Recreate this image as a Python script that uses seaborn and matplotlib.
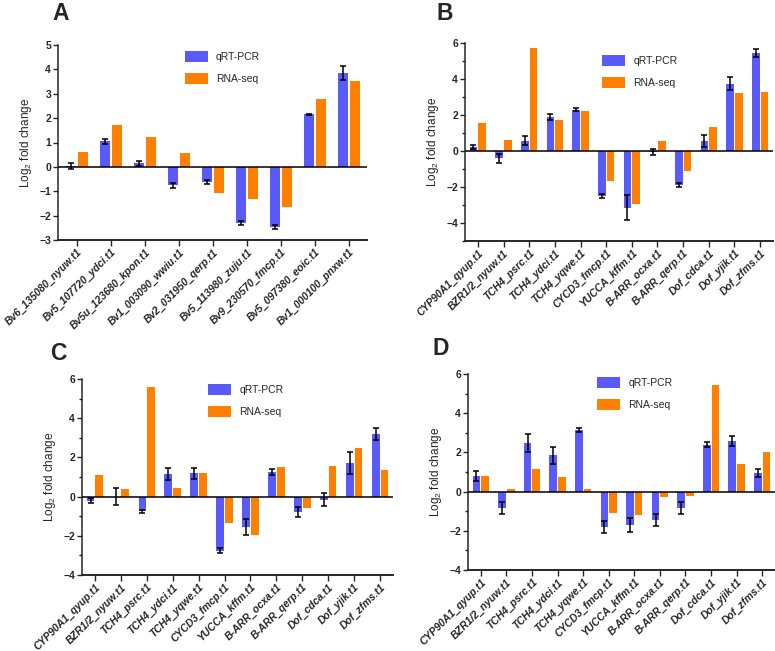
import numpy as np
import pandas as pd
import matplotlib
matplotlib.use("Agg")
import matplotlib.pyplot as plt
import seaborn as sns

# panel A genes and values
genes_a = ["Bv6_135080_nyuw.t1", "Bv5_107720_ydci.t1", "Bv5u_123680_kpon.t1",
           "Bv1_003090_wwiu.t1", "Bv2_031950_qerp.t1", "Bv5_113980_zuju.t1",
           "Bv9_230570_fmcp.t1", "Bv5_097380_eoic.t1", "Bv1_000100_pnxw.t1"]
qpcr_a = [0.05, 1.05, 0.15, -0.75, -0.62, -2.3, -2.45, 2.15, 3.85]
qpcr_err_a = [0.12, 0.1, 0.1, 0.1, 0.08, 0.07, 0.08, 0.02, 0.3]
rnaseq_a = [0.6, 1.72, 1.22, 0.57, -1.08, -1.33, -1.63, 2.8, 3.52]

# panels B, C, D share the same genes
genes_bcd = ["CYP90A1_qyup.t1", "BZR1/2_nyuw.t1", "TCH4_psrc.t1", "TCH4_ydci.t1",
             "TCH4_yqwe.t1", "CYCD3_fmcp.t1", "YUCCA_kffm.t1", "B-ARR_ocxa.t1",
             "B-ARR_qerp.t1", "Dof_cdca.t1", "Dof_yjik.t1", "Dof_zfms.t1"]

qpcr_b = [0.22, -0.4, 0.57, 1.9, 2.3, -2.5, -3.15, -0.05, -1.9, 0.55, 3.75, 5.45]
qpcr_err_b = [0.1, 0.25, 0.25, 0.15, 0.08, 0.1, 0.7, 0.15, 0.12, 0.35, 0.35, 0.2]
rnaseq_b = [1.57, 0.6, 5.7, 1.72, 2.25, -1.65, -2.95, 0.57, -1.1, 1.35, 3.2, 3.3]

qpcr_c = [-0.2, 0.0, -0.75, 1.15, 1.18, -2.75, -1.55, 1.25, -0.8, -0.15, 1.72, 3.2]
qpcr_err_c = [0.15, 0.45, 0.08, 0.3, 0.28, 0.15, 0.4, 0.15, 0.25, 0.35, 0.55, 0.3]
rnaseq_c = [1.08, 0.37, 5.6, 0.42, 1.18, -1.37, -1.95, 1.5, -0.6, 1.55, 2.5, 1.38]

qpcr_d = [0.78, -0.85, 2.48, 1.85, 3.15, -1.8, -1.7, -1.45, -0.85, 2.4, 2.58, 0.97]
qpcr_err_d = [0.25, 0.3, 0.45, 0.42, 0.1, 0.3, 0.35, 0.3, 0.3, 0.15, 0.25, 0.2]
rnaseq_d = [0.78, 0.12, 1.13, 0.75, 0.12, -1.1, -1.2, -0.3, -0.2, 5.45, 1.42, 2.0]

methods = ["qRT-PCR", "RNA-seq"]
colors = ["#5A5AF8", "#FF8000"]

sns.set_style("ticks")
plt.rcParams["font.family"] = ["Liberation Sans", "DejaVu Sans"]
plt.rcParams["mathtext.fontset"] = "custom"
plt.rcParams["mathtext.rm"] = "Liberation Sans"

W, H = 775, 651
fig = plt.figure(figsize=(W / 100, H / 100), dpi=100)


def px_axes(left, right, top, bottom):
    return fig.add_axes([left / W, 1 - bottom / H, (right - left) / W, (bottom - top) / H])


def draw_panel(ax, genes, qpcr, err, rna, ylim, major, minor, xlim, leg_pos):
    df = pd.DataFrame({
        "gene": genes * 2,
        "method": [methods[0]] * len(genes) + [methods[1]] * len(genes),
        "value": list(qpcr) + list(rna),
    })
    sns.barplot(data=df, x="gene", y="value", hue="method", palette=colors,
                saturation=1, width=0.68, gap=0.12, errorbar=None,
                linewidth=0, ax=ax)
    # error bars on qRT-PCR bars
    xs = [p.get_x() + p.get_width() / 2 for p in ax.containers[0]]
    ax.errorbar(xs, qpcr, yerr=err, fmt="none", ecolor="black",
                elinewidth=1.1, capsize=2, capthick=1.1, zorder=5)
    ax.axhline(0, color="black", lw=1.1, zorder=4)
    ax.set_ylim(*ylim)
    ax.set_xlim(*xlim)
    ax.set_yticks(major)
    if minor is not None:
        ax.set_yticks(minor, minor=True)
    ax.set_xlabel("")
    ax.set_ylabel(r"Log$_{\mathregular{2}}$ fold change", fontsize=8.5)
    ax.tick_params(axis="y", labelsize=7.5, length=3.5, width=1, pad=1.5)
    ax.tick_params(axis="y", which="minor", length=2, width=1)
    ax.tick_params(axis="x", length=4, width=1, pad=1)
    for t in ax.get_yticklabels():
        t.set_fontweight("bold")
    ax.set_xticks(range(len(genes)))
    ax.set_xticklabels(genes, rotation=45, ha="right", rotation_mode="anchor",
                       fontsize=7.5, fontweight="bold", fontstyle="italic")
    sns.despine(ax=ax)
    ax.spines["left"].set_linewidth(1.1)
    ax.spines["bottom"].set_linewidth(1.4)
    ax.legend(frameon=False, loc="upper left", bbox_to_anchor=leg_pos,
              fontsize=7.5, handlelength=2.2, handleheight=1.3,
              handletextpad=0.8, labelspacing=1.0, borderpad=0,
              borderaxespad=0)


ax_a = px_axes(58, 367, 45, 240)
draw_panel(ax_a, genes_a, qpcr_a, qpcr_err_a, rnaseq_a, (-3, 5),
           range(-3, 6), None, (-0.56, 8.53), (0.41, 0.97))

ax_b = px_axes(465, 773, 43, 241)
draw_panel(ax_b, genes_bcd, qpcr_b, qpcr_err_b, rnaseq_b, (-5, 6),
           [-4, -2, 0, 2, 4, 6], [-5, -3, -1, 1, 3, 5], (-0.5, 11.5), (0.445, 0.94))

ax_c = px_axes(82, 393, 379, 575)
draw_panel(ax_c, genes_bcd, qpcr_c, qpcr_err_c, rnaseq_c, (-4, 6),
           [-4, -2, 0, 2, 4, 6], [-3, -1, 1, 3, 5], (-0.5, 11.5), (0.405, 0.975))

ax_d = px_axes(468, 775, 374, 570)
draw_panel(ax_d, genes_bcd, qpcr_d, qpcr_err_d, rnaseq_d, (-4, 6),
           [-4, -2, 0, 2, 4, 6], [-3, -1, 1, 3, 5], (-0.5, 11.5), (0.42, 0.985))

# panel letters
for letter, x, y in [("A", 52, 2), ("B", 436, 2), ("C", 50, 342), ("D", 433, 337)]:
    fig.text(x / W, 1 - y / H, letter, fontsize=16.5, fontweight="bold",
             ha="left", va="top")

fig.savefig("out.png", dpi=100)
